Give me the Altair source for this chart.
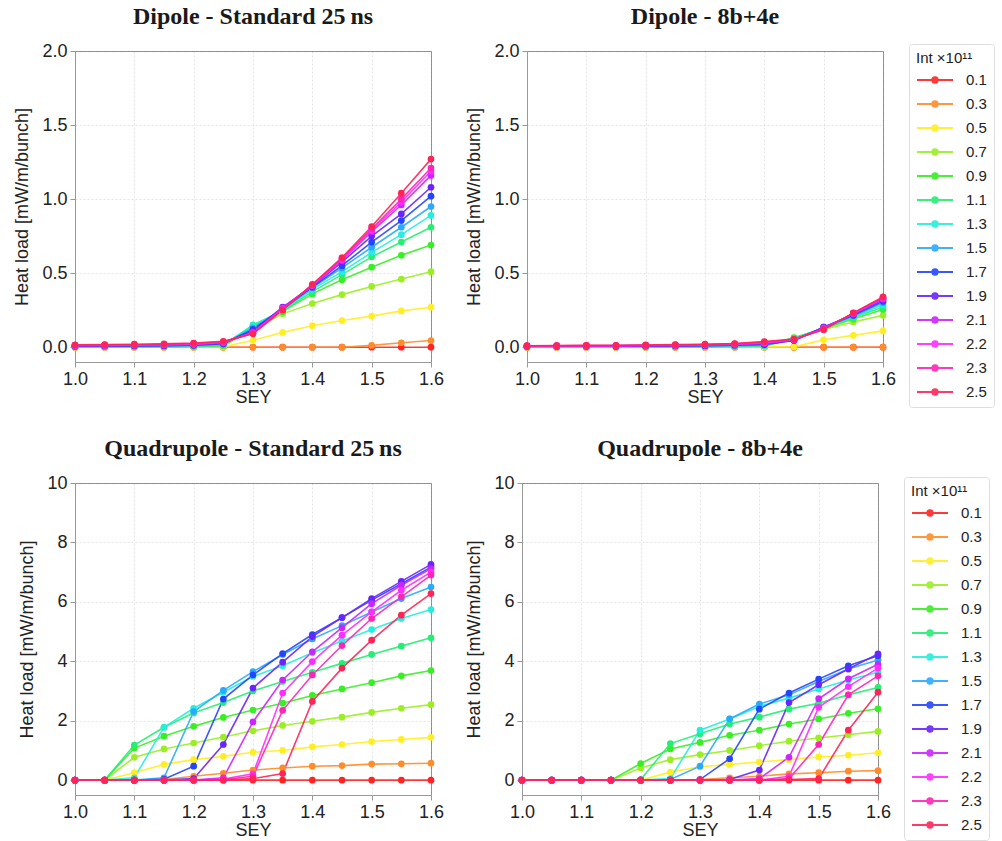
import altair as alt
import pandas as pd

# SEY scan points shared by every panel
SEY = [1.0, 1.05, 1.1, 1.15, 1.2, 1.25, 1.3, 1.35, 1.4, 1.45, 1.5, 1.55, 1.6]

# Bunch intensities (x 1e11) and their colours
INTENSITIES = ["0.1", "0.3", "0.5", "0.7", "0.9", "1.1", "1.3",
               "1.5", "1.7", "1.9", "2.1", "2.2", "2.3", "2.5"]
COLORS = ["#ff2424", "#ff8c2a", "#ffee24", "#9cee24", "#38ee24", "#24ee74",
          "#24eedc", "#2aaaff", "#2444ff", "#6a24ff", "#cc24ff", "#ff2cff",
          "#ff24b8", "#ff2458"]

# Heat load [mW/m/bunch], one list per intensity
dipole_std = {
    "0.1": [0, 0, 0, 0, 0, 0, 0, 0, 0, 0, 0, 0, 0],
    "0.3": [0, 0, 0, 0, 0, 0, 0, 0, 0, 0, 0.012, 0.03, 0.045],
    "0.5": [0.001, 0.001, 0.001, 0.001, 0.001, 0.002, 0.047, 0.10, 0.145, 0.18, 0.21, 0.245, 0.27],
    "0.7": [0.002, 0.002, 0.002, 0.003, 0.003, 0.006, 0.12, 0.225, 0.295, 0.355, 0.41, 0.46, 0.51],
    "0.9": [0.003, 0.003, 0.004, 0.004, 0.005, 0.01, 0.14, 0.24, 0.36, 0.455, 0.54, 0.62, 0.69],
    "1.1": [0.004, 0.004, 0.005, 0.005, 0.007, 0.014, 0.15, 0.245, 0.375, 0.49, 0.61, 0.71, 0.81],
    "1.3": [0.005, 0.005, 0.006, 0.007, 0.009, 0.017, 0.145, 0.25, 0.39, 0.51, 0.64, 0.76, 0.89],
    "1.5": [0.006, 0.006, 0.007, 0.008, 0.011, 0.02, 0.13, 0.255, 0.40, 0.535, 0.675, 0.81, 0.95],
    "1.7": [0.007, 0.008, 0.009, 0.01, 0.013, 0.023, 0.12, 0.26, 0.405, 0.55, 0.71, 0.855, 1.02],
    "1.9": [0.009, 0.01, 0.011, 0.012, 0.016, 0.027, 0.11, 0.27, 0.41, 0.575, 0.75, 0.90, 1.08],
    "2.1": [0.011, 0.012, 0.013, 0.015, 0.019, 0.03, 0.10, 0.265, 0.415, 0.585, 0.78, 0.96, 1.16],
    "2.2": [0.012, 0.013, 0.015, 0.017, 0.021, 0.033, 0.097, 0.26, 0.418, 0.59, 0.79, 0.98, 1.19],
    "2.3": [0.013, 0.015, 0.016, 0.019, 0.024, 0.036, 0.094, 0.255, 0.42, 0.60, 0.80, 1.00, 1.21],
    "2.5": [0.016, 0.018, 0.02, 0.023, 0.028, 0.04, 0.09, 0.25, 0.425, 0.605, 0.815, 1.04, 1.27],
}

dipole_8b4e = {
    "0.1": [0, 0, 0, 0, 0, 0, 0, 0, 0, 0, 0, 0, 0],
    "0.3": [0, 0, 0, 0, 0, 0, 0, 0, 0, 0, 0, 0, 0],
    "0.5": [0.001, 0.001, 0.001, 0.001, 0.001, 0.001, 0.001, 0.002, 0.002, 0.002, 0.05, 0.08, 0.11],
    "0.7": [0.002, 0.002, 0.002, 0.002, 0.002, 0.003, 0.003, 0.004, 0.006, 0.055, 0.12, 0.17, 0.215],
    "0.9": [0.003, 0.003, 0.003, 0.003, 0.003, 0.004, 0.004, 0.005, 0.008, 0.065, 0.125, 0.19, 0.255],
    "1.1": [0.004, 0.004, 0.004, 0.004, 0.004, 0.005, 0.005, 0.007, 0.01, 0.06, 0.128, 0.20, 0.27],
    "1.3": [0.004, 0.004, 0.005, 0.005, 0.005, 0.006, 0.007, 0.009, 0.012, 0.055, 0.13, 0.205, 0.285],
    "1.5": [0.005, 0.005, 0.006, 0.006, 0.006, 0.007, 0.008, 0.011, 0.015, 0.05, 0.133, 0.21, 0.30],
    "1.7": [0.006, 0.006, 0.007, 0.007, 0.008, 0.009, 0.01, 0.013, 0.018, 0.045, 0.135, 0.215, 0.31],
    "1.9": [0.007, 0.007, 0.008, 0.008, 0.009, 0.01, 0.012, 0.016, 0.022, 0.045, 0.135, 0.22, 0.32],
    "2.1": [0.008, 0.008, 0.009, 0.009, 0.011, 0.012, 0.014, 0.019, 0.026, 0.048, 0.13, 0.225, 0.325],
    "2.2": [0.008, 0.009, 0.01, 0.01, 0.012, 0.013, 0.016, 0.021, 0.03, 0.05, 0.125, 0.228, 0.33],
    "2.3": [0.009, 0.01, 0.011, 0.011, 0.013, 0.015, 0.018, 0.023, 0.034, 0.052, 0.122, 0.23, 0.335],
    "2.5": [0.01, 0.011, 0.012, 0.013, 0.015, 0.017, 0.02, 0.025, 0.038, 0.055, 0.118, 0.232, 0.34],
}

quad_std = {
    "0.1": [0, 0, 0, 0, 0, 0, 0, 0, 0, 0, 0, 0, 0],
    "0.3": [0, 0, 0, 0.02, 0.13, 0.23, 0.34, 0.41, 0.47, 0.49, 0.54, 0.55, 0.57],
    "0.5": [0, 0, 0.25, 0.53, 0.69, 0.8, 0.94, 1.0, 1.12, 1.2, 1.3, 1.37, 1.44],
    "0.7": [0, 0, 0.77, 1.05, 1.25, 1.45, 1.66, 1.84, 1.98, 2.12, 2.28, 2.42, 2.54],
    "0.9": [0, 0, 1.08, 1.48, 1.81, 2.11, 2.36, 2.59, 2.85, 3.07, 3.28, 3.51, 3.69],
    "1.1": [0, 0, 1.18, 1.78, 2.26, 2.61, 3.0, 3.32, 3.63, 3.93, 4.23, 4.51, 4.79],
    "1.3": [0, 0, 0.08, 1.78, 2.42, 2.96, 3.49, 3.85, 4.29, 4.68, 5.07, 5.44, 5.74],
    "1.5": [0, 0, 0, 0.08, 2.31, 3.02, 3.65, 4.23, 4.75, 5.2, 5.66, 6.11, 6.5],
    "1.7": [0, 0, 0, 0.03, 0.47, 2.73, 3.54, 4.26, 4.9, 5.47, 6.06, 6.61, 7.17],
    "1.9": [0, 0, 0, 0, 0.05, 1.2, 3.1, 3.97, 4.83, 5.47, 6.11, 6.69, 7.26],
    "2.1": [0, 0, 0, 0, 0, 0.08, 1.96, 3.37, 4.32, 5.13, 5.94, 6.56, 7.12],
    "2.2": [0, 0, 0, 0, 0, 0.04, 0.21, 2.93, 3.99, 4.88, 5.66, 6.39, 7.0],
    "2.3": [0, 0, 0, 0, 0, 0.02, 0.13, 2.35, 3.54, 4.53, 5.44, 6.17, 6.9],
    "2.5": [0, 0, 0, 0, 0, 0, 0.05, 0.22, 2.65, 3.77, 4.71, 5.55, 6.28],
}

quad_8b4e = {
    "0.1": [0, 0, 0, 0, 0, 0, 0, 0, 0, 0, 0, 0, 0],
    "0.3": [0, 0, 0, 0, 0, 0, 0.02, 0.08, 0.13, 0.21, 0.25, 0.30, 0.32],
    "0.5": [0, 0, 0, 0, 0, 0.27, 0.45, 0.53, 0.61, 0.69, 0.78, 0.84, 0.92],
    "0.7": [0, 0, 0, 0, 0.41, 0.69, 0.86, 1.0, 1.16, 1.31, 1.42, 1.53, 1.64],
    "0.9": [0, 0, 0, 0, 0.56, 1.05, 1.27, 1.51, 1.68, 1.89, 2.06, 2.25, 2.4],
    "1.1": [0, 0, 0, 0, 0.02, 1.23, 1.56, 1.89, 2.12, 2.39, 2.59, 2.87, 3.12],
    "1.3": [0, 0, 0, 0, 0, 0.05, 1.68, 2.06, 2.48, 2.76, 3.07, 3.37, 3.63],
    "1.5": [0, 0, 0, 0, 0, 0.02, 0.47, 2.06, 2.56, 2.87, 3.32, 3.74, 4.04],
    "1.7": [0, 0, 0, 0, 0, 0, 0.02, 0.72, 2.39, 2.93, 3.40, 3.85, 4.19],
    "1.9": [0, 0, 0, 0, 0, 0, 0, 0.02, 0.34, 2.61, 3.21, 3.74, 4.25],
    "2.1": [0, 0, 0, 0, 0, 0, 0, 0, 0.05, 0.77, 2.74, 3.41, 3.9],
    "2.2": [0, 0, 0, 0, 0, 0, 0, 0, 0, 0.13, 2.45, 3.15, 3.77],
    "2.3": [0, 0, 0, 0, 0, 0, 0, 0, 0, 0.05, 1.2, 2.87, 3.51],
    "2.5": [0, 0, 0, 0, 0, 0, 0, 0, 0, 0.02, 0.05, 1.68, 2.96],
}

SANS = "Liberation Sans"
SERIF = "Liberation Serif"

# line + dot glyph for the legend (wider than the unit box)
LEGEND_SYMBOL = "M-2,0L2,0M-0.3,0A0.3,0.3,0,1,0,0.3,0A0.3,0.3,0,1,0,-0.3,0Z"


def to_frame(series):
    rows = []
    for k, name in enumerate(INTENSITIES):
        for s, v in zip(SEY, series[name]):
            rows.append({"SEY": s, "load": v, "Int": name, "k": k})
    return pd.DataFrame(rows)


def panel(series, title, ydom, yticks, yfmt, height, legend_y=None):
    df = to_frame(series)
    if legend_y is None:
        legend = None
    else:
        legend = alt.Legend(
            title="Int \u00d710\u00b9\u00b9", orient="none", legendX=382, legendY=legend_y,
            symbolType=LEGEND_SYMBOL, symbolSize=324, symbolStrokeWidth=2,
            symbolOffset=9, labelOffset=21,
            labelFont=SANS, labelFontSize=15, titleFont=SANS, titleFontSize=15,
            titleFontWeight="normal", titleColor="#222222", labelColor="#222222",
            titlePadding=4, rowPadding=6,
            strokeColor="#dddddd", cornerRadius=3, padding=7,
        )
    color = alt.Color("Int:N", sort=INTENSITIES,
                      scale=alt.Scale(domain=INTENSITIES, range=COLORS),
                      legend=legend)
    x = alt.X("SEY:Q", title="SEY",
              scale=alt.Scale(domain=[1.0, 1.6], nice=False, zero=False),
              axis=alt.Axis(values=[1.0, 1.1, 1.2, 1.3, 1.4, 1.5, 1.6], format=".1f",
                            labelFlush=False, titlePadding=0))
    y = alt.Y("load:Q", title="Heat load [mW/m/bunch]",
              scale=alt.Scale(domain=ydom, nice=False, zero=False),
              axis=alt.Axis(values=yticks, format=yfmt, labelFlush=False, titlePadding=10))
    base = alt.Chart(df)
    lines = base.mark_line(strokeWidth=1.6, opacity=0.9).encode(
        x=x, y=y, color=color, detail="Int:N", order="SEY:Q")
    dots = base.mark_circle(size=45, opacity=1).encode(
        x=x, y=y, color=color, order="k:Q")
    return alt.layer(lines, dots).properties(
        width=356, height=height,
        title=alt.TitleParams(title, font=SERIF, fontSize=24, fontWeight="bold",
                              color="#1a1a1a", offset=13),
    )


top_ticks = [0.0, 0.5, 1.0, 1.5, 2.0]
bot_ticks = [0, 2, 4, 6, 8, 10]

tl = panel(dipole_std, "Dipole - Standard 25\u2009ns", [-0.1, 2.0], top_ticks, ".1f", 311)
tr = panel(dipole_8b4e, "Dipole - 8b+4e", [-0.1, 2.0], top_ticks, ".1f", 311, legend_y=-7)
bl = panel(quad_std, "Quadrupole - Standard 25\u2009ns", [-0.5, 10], bot_ticks, "d", 312)
br = panel(quad_8b4e, "Quadrupole - 8b+4e", [-0.5, 10], bot_ticks, "d", 312, legend_y=-6)

top = alt.hconcat(tl, tr, spacing=20).resolve_scale(color="independent")
bottom = alt.hconcat(bl, br, spacing=20).resolve_scale(color="independent")

chart = alt.vconcat(top, bottom, spacing=28).resolve_scale(color="independent").configure(
    padding={"left": 13, "top": 4, "right": 5, "bottom": 3},
).configure_view(
    stroke="#999999", strokeWidth=1,
).configure_axis(
    labelFont=SANS, labelFontSize=18, labelColor="#222222",
    titleFont=SANS, titleFontSize=18, titleFontWeight="normal", titleColor="#222222",
    gridColor="rgba(0,0,0,0.1)", gridDash=[2, 2], domainColor="#999999",
    tickColor="#999999", tickSize=5, labelPadding=3,
).configure_title(anchor="middle")

chart.save("out.html", embed_options={"renderer": "svg", "actions": False})
